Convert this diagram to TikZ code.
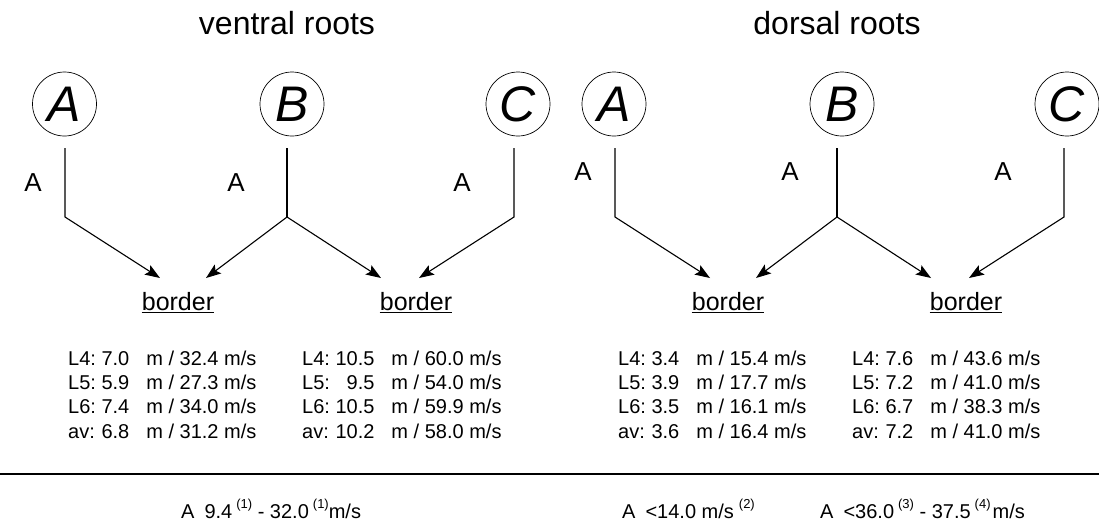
\documentclass[tikz,border=0pt]{standalone}
\usepackage{fontspec}
\setmainfont{Liberation Sans}
\usetikzlibrary{arrows.meta}
\newcommand{\datatab}[1]{\begin{tabular}[t]{@{}l@{\ }r@{\hspace{17pt}}l@{}}#1\end{tabular}}
\newcommand{\supn}[1]{\raisebox{10pt}{\fontsize{13}{13}\selectfont #1}}
\begin{document}
\begin{tikzpicture}[x=1pt,y=-1pt,
  circ/.style={draw,circle,minimum size=64pt,inner sep=0pt,line width=0.7pt,font=\fontsize{50}{50}\selectfont\itshape},
  ttl/.style={font=\fontsize{32}{32}\selectfont,inner sep=0pt,anchor=base},
  lbl/.style={font=\fontsize{26}{26}\selectfont,inner sep=0pt},
  brd/.style={font=\fontsize{25}{25}\selectfont,inner sep=0pt,anchor=base},
  conn/.style={line width=1.1pt},
  arr/.style={conn,-{Stealth[length=15pt,width=11pt,inset=3pt]}},
  uline/.style={line width=1.2pt},
  data/.style={font=\fontsize{20}{24.4}\selectfont,inner sep=0pt,anchor=base west},
  foot/.style={font=\fontsize{20}{24}\selectfont,inner sep=0pt,anchor=base west},
  sep/.style={line width=1.5pt}]
\useasboundingbox (0,0) rectangle (1099,528);

% titles
\node[ttl] (tv) at (287,34) {ventral roots};
\node[ttl] (td) at (837,34) {dorsal roots};

% circles
\node[circ] (vA) at (64.5,104) {A};
\node[circ] (vB) at (292,104) {B};
\node[circ] (vC) at (518,104) {C};
\node[circ] (dA) at (614,104) {A};
\node[circ] (dB) at (842,104) {B};
\node[circ] (dC) at (1067,104) {C};

% labels
\node[lbl] (lvA) at (33,183) {A};
\node[lbl] (lvB) at (236,183) {A};
\node[lbl] (lvC) at (462,183) {A};
\node[lbl] (ldA) at (583,172) {A};
\node[lbl] (ldB) at (790,172) {A};
\node[lbl] (ldC) at (1003,172) {A};

% border nodes
\node[brd] (bv1) at (178,310) {border};
\node[brd] (bv2) at (416,310) {border};
\node[brd] (bd1) at (728,310) {border};
\node[brd] (bd2) at (966,310) {border};
\foreach \b in {bv1,bv2,bd1,bd2}
  \draw[uline] ([yshift=-2.5pt]\b.base west) -- ([yshift=-2.5pt]\b.base east);

% connector coordinates (ventral)
\coordinate (svA) at (65,148);  \coordinate (kvA) at (65,217);
\coordinate (svB) at (287,148); \coordinate (kvB) at (287,217);
\coordinate (svC) at (514,148); \coordinate (kvC) at (514,217);
\coordinate (tv1a) at (160,278); \coordinate (tv1b) at (206,278);
\coordinate (tv2a) at (381,278); \coordinate (tv2b) at (419,278);
% connector coordinates (dorsal)
\coordinate (sdA) at (615,148); \coordinate (kdA) at (615,217);
\coordinate (sdB) at (837,148); \coordinate (kdB) at (837,217);
\coordinate (sdC) at (1064,148); \coordinate (kdC) at (1064,217);
\coordinate (td1a) at (710,278); \coordinate (td1b) at (756,278);
\coordinate (td2a) at (931,278); \coordinate (td2b) at (969,278);

\draw[arr] (svA) -- (kvA) -- (tv1a);
\draw[conn] (svB) -- (kvB);
\draw[arr] (kvB) -- (tv1b);
\draw[arr] (kvB) -- (tv2a);
\draw[arr] (svC) -- (kvC) -- (tv2b);

\draw[arr] (sdA) -- (kdA) -- (td1a);
\draw[conn] (sdB) -- (kdB);
\draw[arr] (kdB) -- (td1b);
\draw[arr] (kdB) -- (td2a);
\draw[arr] (sdC) -- (kdC) -- (td2b);

% data
\node[data] (dv1) at (68,365) {\datatab{L4: & 7.0 & m / 32.4 m/s\\ L5: & 5.9 & m / 27.3 m/s\\ L6: & 7.4 & m / 34.0 m/s\\ av: & 6.8 & m / 31.2 m/s}};
\node[data] (dv2) at (302,365) {\datatab{L4: & 10.5 & m / 60.0 m/s\\ L5: & 9.5 & m / 54.0 m/s\\ L6: & 10.5 & m / 59.9 m/s\\ av: & 10.2 & m / 58.0 m/s}};
\node[data] (dd1) at (618,365) {\datatab{L4: & 3.4 & m / 15.4 m/s\\ L5: & 3.9 & m / 17.7 m/s\\ L6: & 3.5 & m / 16.1 m/s\\ av: & 3.6 & m / 16.4 m/s}};
\node[data] (dd2) at (852,365) {\datatab{L4: & 7.6 & m / 43.6 m/s\\ L5: & 7.2 & m / 41.0 m/s\\ L6: & 6.7 & m / 38.3 m/s\\ av: & 7.2 & m / 41.0 m/s}};

% separator
\coordinate (sepL) at (0,474);
\coordinate (sepR) at (1099,474);
\draw[sep] (sepL) -- (sepR);

% footer
\node[foot] (f1) at (181,518) {A\hspace{10pt}9.4\hspace{4pt}\supn{(1)} - 32.0\hspace{4pt}\supn{(1)}m/s};
\node[foot] (f2) at (622,518) {A\hspace{10pt}<14.0 m/s\hspace{5pt}\supn{(2)}};
\node[foot] (f3) at (820,518) {A\hspace{10pt}<36.0\hspace{4pt}\supn{(3)} - 37.5\hspace{4pt}\supn{(4)}\hspace{2pt}m/s};
\end{tikzpicture}
\end{document}
